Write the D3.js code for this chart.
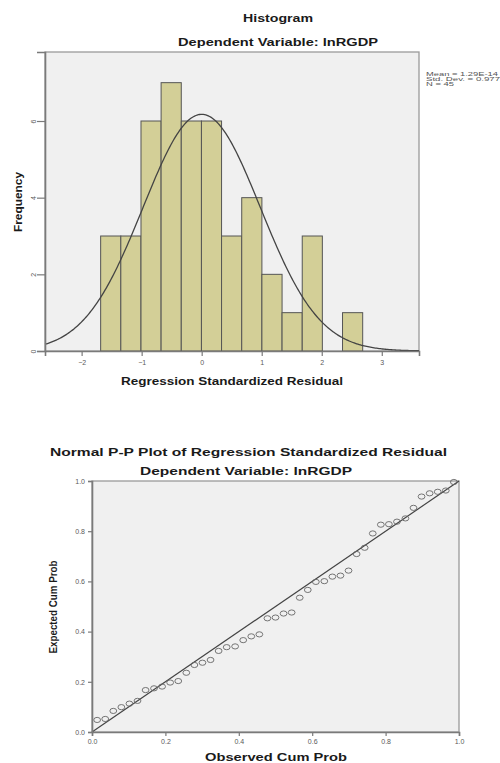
<!DOCTYPE html>
<html>
<head>
<meta charset="utf-8">
<script src="https://cdn.jsdelivr.net/npm/d3@7"></script>
<style>
  body { margin: 0; background: #fff; }
  svg text { font-family: "Liberation Sans", Arial, sans-serif; }
</style>
</head>
<body>
<script>
// histogram data
const binEdges = [-1.683, -1.347, -1.011, -0.676, -0.340, -0.004, 0.331, 0.667, 1.003, 1.339, 1.675, 2.010, 2.346, 2.682];
const binCounts = [3, 3, 6, 7, 6, 6, 3, 4, 2, 1, 3, 0, 1];
const histXTicks = [-2, -1, 0, 1, 2, 3];
const histYTicks = [0, 2, 4, 6];
const statLabels = ["Mean = 1.29E-14", "Std. Dev. = 0.977", "N = 45"];
const statMean = 1.29e-14, statSd = 0.977, statN = 45;

// P-P plot data
const observedCum = [0.014, 0.036, 0.058, 0.080, 0.102, 0.124, 0.146, 0.169, 0.191, 0.213,
                     0.235, 0.257, 0.279, 0.301, 0.323, 0.345, 0.367, 0.390, 0.412, 0.434,
                     0.456, 0.478, 0.500, 0.522, 0.544, 0.566, 0.588, 0.610, 0.633, 0.655,
                     0.677, 0.699, 0.721, 0.743, 0.765, 0.787, 0.809, 0.831, 0.854, 0.876,
                     0.898, 0.920, 0.942, 0.964, 0.986];
const expectedCum = [0.048, 0.052, 0.084, 0.099, 0.113, 0.124, 0.167, 0.174, 0.181, 0.197,
                     0.203, 0.236, 0.267, 0.276, 0.287, 0.323, 0.338, 0.341, 0.366, 0.381,
                     0.389, 0.453, 0.456, 0.472, 0.476, 0.535, 0.566, 0.598, 0.601, 0.619,
                     0.623, 0.643, 0.709, 0.734, 0.791, 0.826, 0.828, 0.838, 0.851, 0.893,
                     0.938, 0.951, 0.957, 0.962, 0.996];
const ppTicks = [0, 0.2, 0.4, 0.6, 0.8, 1.0];

const w = 500, h = 763;
const svg = d3.select("body").append("svg")
  .attr("width", w).attr("height", h);

// helper for stretched titles
function label(x, y, txt, size, len, rot) {
  const t = svg.append("text")
    .attr("text-anchor", "middle")
    .attr("font-weight", "bold")
    .attr("font-size", size)
    .attr("fill", "#1a1a1a")
    .attr("textLength", len)
    .attr("lengthAdjust", "spacingAndGlyphs")
    .text(txt);
  if (rot) t.attr("transform", "translate(" + x + "," + y + ") rotate(-90)");
  else t.attr("x", x).attr("y", y);
  return t;
}

function styleAxis(g) {
  g.select(".domain").attr("stroke", "#7a7a7a").attr("stroke-width", 1.6);
  g.selectAll(".tick line").attr("stroke", "#7a7a7a").attr("stroke-width", 1.2);
  g.selectAll(".tick text").attr("fill", "#5a5a5a").attr("font-size", 7)
    .attr("font-family", "Liberation Sans, Arial, sans-serif");
}

//* ---------- histogram ----------
const hx = d3.scaleLinear().domain([-2.61, 3.62]).range([45, 419]);
const hy = d3.scaleLinear().domain([0, 7.8]).range([351, 52]);

svg.append("rect")
  .attr("x", hx.range()[0]).attr("y", hy.range()[1])
  .attr("width", hx.range()[1] - hx.range()[0])
  .attr("height", hy.range()[0] - hy.range()[1])
  .attr("fill", "#f0f0f0").attr("stroke", "#9a9a9a").attr("stroke-width", 1.3);

svg.selectAll("rect.bar")
  .data(binCounts)
  .enter()
  .append("rect")
  .attr("class", "bar")
  .attr("x", (d, i) => hx(binEdges[i]))
  .attr("width", (d, i) => hx(binEdges[i + 1]) - hx(binEdges[i]))
  .attr("y", (d) => hy(d))
  .attr("height", (d) => hy(0) - hy(d))
  .attr("fill", (d) => d > 0 ? "#d3cf97" : "none")
  .attr("stroke", (d) => d > 0 ? "#555" : "none")
  .attr("stroke-width", 1);

// fitted normal curve from the stated mean / sd / N
const binW = binEdges[1] - binEdges[0];
const curvePts = d3.range(0, 301).map((k) => {
  const x = hx.domain()[0] + k * (hx.domain()[1] - hx.domain()[0]) / 300;
  const z = (x - statMean) / statSd;
  return [x, statN * binW * Math.exp(-0.5 * z * z) / (statSd * Math.sqrt(2 * Math.PI))];
});
svg.append("path")
  .attr("d", d3.line().x((d) => hx(d[0])).y((d) => hy(d[1]))(curvePts))
  .attr("fill", "none").attr("stroke", "#444").attr("stroke-width", 1.3);

const hxAxis = svg.append("g")
  .attr("transform", "translate(0," + hy(0) + ")")
  .call(d3.axisBottom(hx).tickValues(histXTicks).tickSize(5).tickPadding(4).tickFormat(d3.format("d")));
styleAxis(hxAxis);

const hyAxis = svg.append("g")
  .attr("transform", "translate(" + hx.range()[0] + ",0)")
  .call(d3.axisLeft(hy).tickValues(histYTicks).tickSize(8).tickFormat(d3.format("d")));
styleAxis(hyAxis);
hyAxis.selectAll(".tick text")
  .attr("x", 0).attr("y", -9.5).attr("dy", 0)
  .attr("text-anchor", "middle")
  .attr("transform", "rotate(-90)");

label(278, 21.5, "Histogram", 11, 70);
label(278, 45.5, "Dependent Variable: lnRGDP", 11, 200);
label(232, 384.5, "Regression Standardized Residual", 10, 222);
label(22, 202, "Frequency", 10, 60, true);

svg.selectAll("text.stat")
  .data(statLabels)
  .enter()
  .append("text")
  .attr("class", "stat")
  .attr("x", 426)
  .attr("y", (d, i) => 75.5 + i * 5)
  .attr("font-size", 5.5)
  .attr("fill", "#555")
  .attr("textLength", (d, i) => [72, 74, 28][i])
  .attr("lengthAdjust", "spacingAndGlyphs")
  .text((d) => d);

//* ---------- normal P-P plot ----------
const px = d3.scaleLinear().domain([0, 1]).range([92, 459]);
const py = d3.scaleLinear().domain([0, 1]).range([732, 481]);

svg.append("rect")
  .attr("x", px.range()[0]).attr("y", py.range()[1])
  .attr("width", px.range()[1] - px.range()[0])
  .attr("height", py.range()[0] - py.range()[1])
  .attr("fill", "#f0f0f0").attr("stroke", "#9a9a9a").attr("stroke-width", 1.3);

svg.append("line")
  .attr("x1", px(0)).attr("y1", py(0))
  .attr("x2", px(1)).attr("y2", py(1))
  .attr("stroke", "#444").attr("stroke-width", 1.2);

svg.selectAll("ellipse.pt")
  .data(observedCum)
  .enter()
  .append("ellipse")
  .attr("class", "pt")
  .attr("cx", (d) => px(d))
  .attr("cy", (d, i) => py(expectedCum[i]))
  .attr("rx", 3.4).attr("ry", 2.6)
  .attr("fill", "none").attr("stroke", "#666").attr("stroke-width", 0.9);

const pxAxis = svg.append("g")
  .attr("transform", "translate(0," + py(0) + ")")
  .call(d3.axisBottom(px).tickValues(ppTicks).tickSize(4).tickPadding(3).tickFormat(d3.format(".1f")));
styleAxis(pxAxis);

const pyAxis = svg.append("g")
  .attr("transform", "translate(" + px(0) + ",0)")
  .call(d3.axisLeft(py).tickValues(ppTicks).tickSize(4).tickPadding(3).tickFormat(d3.format(".1f")));
styleAxis(pyAxis);

label(248.5, 455.5, "Normal P-P Plot of Regression Standardized Residual", 10, 397);
label(246, 474.5, "Dependent Variable: lnRGDP", 10, 212);
label(276, 761, "Observed Cum Prob", 10, 142);
label(57, 607, "Expected Cum Prob", 10, 93, true);
</script>
</body>
</html>
